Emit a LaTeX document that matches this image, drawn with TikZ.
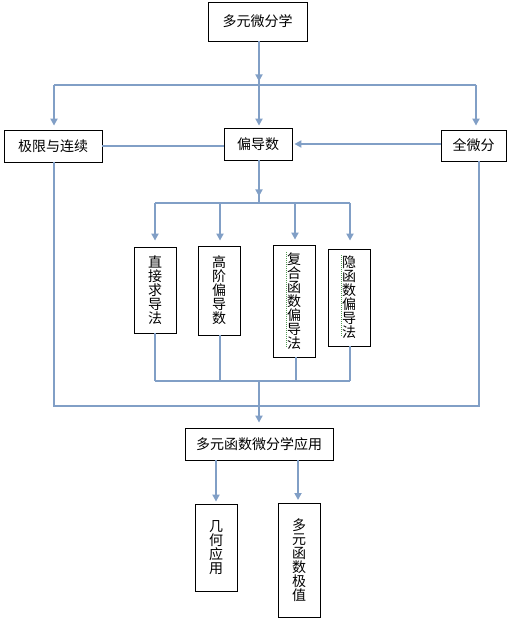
\documentclass[tikz,border=0pt]{standalone}
\usepackage{fontspec}
\setmainfont{Noto Sans CJK SC}
\usetikzlibrary{arrows.meta}
\definecolor{lineblue}{HTML}{819FC6}
\definecolor{spellgreen}{HTML}{4F9A4F}
\tikzset{
  box/.style={draw=black,line width=0.8pt,inner sep=0pt,font=\fontsize{14}{14}\selectfont,align=center},
  conn/.style={draw=lineblue,line width=1.8pt},
  arr/.style={conn,-{Triangle[length=7pt,width=7pt]}},
  spell/.style={draw=spellgreen,line width=1pt,dash pattern=on 1pt off 1pt}
}
\begin{document}
\begin{tikzpicture}[x=1pt,y=-1pt]
\useasboundingbox (0,0) rectangle (510,620);
% nodes
\node[box,minimum width=99pt,minimum height=39pt] (top) at (257.5,21.5) {多元微分学};
\node[box,minimum width=98pt,minimum height=32pt] (jx) at (53,146) {极限与连续};
\node[box,minimum width=68pt,minimum height=32pt] (pd) at (258,144) {偏导数};
\node[box,minimum width=65pt,minimum height=31pt] (qw) at (473.5,145.5) {全微分};
\node[box,minimum width=42pt,minimum height=86pt] (zj) at (155,290) {直\\接\\求\\导\\法};
\node[box,minimum width=42pt,minimum height=89pt] (gj) at (219,290.5) {高\\阶\\偏\\导\\数};
\node[box,minimum width=42pt,minimum height=112pt] (fh) at (294,301) {复\\合\\函\\数\\偏\\导\\法};
\node[box,minimum width=42pt,minimum height=97pt] (yh) at (349,297.5) {隐\\函\\数\\偏\\导\\法};
\node[box,minimum width=148pt,minimum height=32pt] (app) at (259,444) {多元函数微分学应用};
\node[box,minimum width=42pt,minimum height=87pt] (jh) at (216,547.5) {几\\何\\应\\用};
\node[box,minimum width=42pt,minimum height=114pt] (jz) at (299,560) {多\\元\\函\\数\\极\\值};
% spell-check marks
\draw[spell] (286.5,252) -- (286.5,348);
\draw[spell] (341.5,255) -- (341.5,337);
% coordinates
\coordinate (h1) at (259,85);
\coordinate (h1l) at (54,85);
\coordinate (h1r) at (476,85);
\coordinate (h2) at (259,203);
\coordinate (h2a) at (155,203);
\coordinate (h2b) at (220,203);
\coordinate (h2c) at (295,203);
\coordinate (h2d) at (350,203);
\coordinate (h3a) at (155,381);
\coordinate (h3b) at (220,381);
\coordinate (h3c) at (296,381);
\coordinate (h3d) at (350,381);
\coordinate (h3) at (259,381);
\coordinate (h4) at (259,406);
\coordinate (h4l) at (54,406);
\coordinate (h4r) at (479,406);
\coordinate (jxb) at (54,162);
\coordinate (qwb) at (479,161);
% connectors: top level
\draw[conn] (h1 |- top.south) -- (h1);
\draw[arr] (h1 |- top.south) -- ++(0,40);
\draw[conn] (h1l) -- (h1r);
\draw[arr,shorten >=4pt] (h1l) -- (h1l |- jx.north);
\draw[arr,shorten >=2pt] (h1) -- (h1 |- pd.north);
\draw[arr,shorten >=4pt] (h1r) -- (h1r |- qw.north);
\draw[conn] (jx.east |- 0,146) -- (pd.west |- 0,146);
\draw[arr,shorten >=2pt] (qw.west |- 0,144) -- (pd.east |- 0,144);
% partial derivatives
\draw[conn] (h1 |- pd.south) -- (h2);
\draw[arr] (h1 |- pd.south) -- ++(0,36);
\draw[conn] (h2a) -- (h2d);
\draw[arr,shorten >=6pt] (h2a) -- (h2a |- zj.north);
\draw[arr,shorten >=5pt] (h2b) -- (h2b |- gj.north);
\draw[arr,shorten >=5pt] (h2c) -- (h2c |- fh.north);
\draw[arr,shorten >=8pt] (h2d) -- (h2d |- yh.north);
\draw[conn] (h3a |- zj.south) -- (h3a);
\draw[conn] (h3b |- gj.south) -- (h3b);
\draw[conn] (h3c |- fh.south) -- (h3c);
\draw[conn] (h3d |- yh.south) -- (h3d);
\draw[conn] (h3a) -- (h3d);
\draw[conn] (h3) -- (h4);
% outer lines
\draw[conn] (jxb) -- (h4l) -- (h4r) -- (qwb);
\draw[arr,shorten >=5pt] (h4) -- (app.north);
% applications
\draw[arr,shorten >=2pt] (app.south -| jh.north) -- (jh.north);
\draw[arr,shorten >=3pt] (app.south -| 298,0) -- (298,503);
\end{tikzpicture}
\end{document}
